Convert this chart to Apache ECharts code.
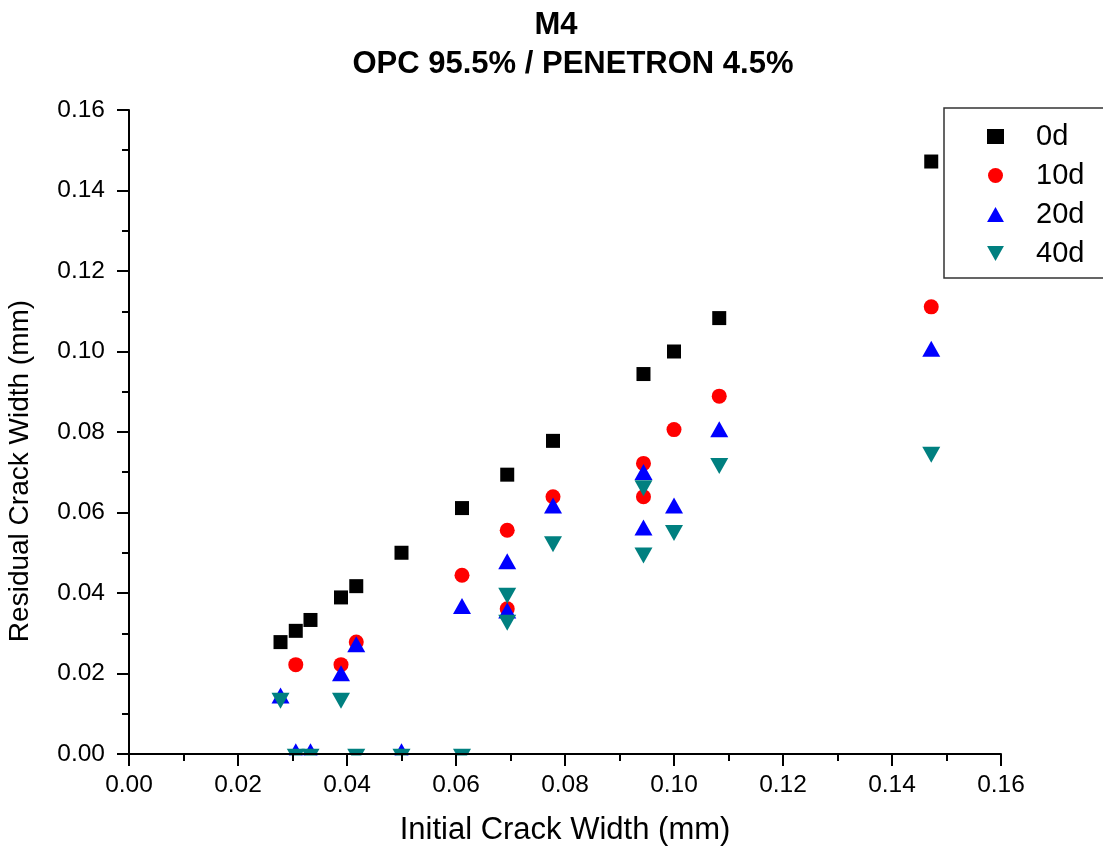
<!DOCTYPE html>
<html>
<head>
<meta charset="utf-8">
<title>M4 residual crack width</title>
<script src="https://cdn.jsdelivr.net/npm/echarts@6/dist/echarts.min.js"></script>
<style>
  html, body { margin: 0; padding: 0; background: #ffffff; }
  #chart { width: 1103px; height: 857px; }
</style>
</head>
<body>
<div id="chart"></div>
<script>
// Initial crack width (mm) and residual width (mm) after each healing period
const initial0d  = [0.0278, 0.0306, 0.0333, 0.0389, 0.0417, 0.0500, 0.0611, 0.0694, 0.0778, 0.0944, 0.1000, 0.1083, 0.1472];
const residual0d = [0.0278, 0.0306, 0.0333, 0.0389, 0.0417, 0.0500, 0.0611, 0.0694, 0.0778, 0.0944, 0.1000, 0.1083, 0.1472];

const initial10d  = [0.0306, 0.0389, 0.0417, 0.0611, 0.0694, 0.0694, 0.0778, 0.0944, 0.0944, 0.1000, 0.1083, 0.1472];
const residual10d = [0.0222, 0.0222, 0.0278, 0.0444, 0.0556, 0.0361, 0.0639, 0.0722, 0.0639, 0.0806, 0.0889, 0.1111];

const initial20d  = [0.0278, 0.0306, 0.0333, 0.0389, 0.0417, 0.0500, 0.0611, 0.0694, 0.0694, 0.0778, 0.0944, 0.0944, 0.1000, 0.1083, 0.1472];
const residual20d = [0.0139, 0.0000, 0.0000, 0.0194, 0.0266, 0.0000, 0.0361, 0.0472, 0.0350, 0.0611, 0.0694, 0.0556, 0.0611, 0.0800, 0.1000];

const initial40d  = [0.0278, 0.0306, 0.0333, 0.0389, 0.0417, 0.0500, 0.0611, 0.0694, 0.0694, 0.0778, 0.0944, 0.0944, 0.1000, 0.1083, 0.1472];
const residual40d = [0.0139, 0.0000, 0.0000, 0.0139, 0.0000, 0.0000, 0.0000, 0.0400, 0.0333, 0.0528, 0.0667, 0.0500, 0.0556, 0.0722, 0.0750];

const seriesNames = ['0d', '10d', '20d', '40d'];
const titleLines = ['M4', 'OPC 95.5% / PENETRON 4.5%'];
const xAxisTitle = 'Initial Crack Width (mm)';
const yAxisTitle = 'Residual Crack Width (mm)';
const axisRange = { min: 0, max: 0.16, interval: 0.02 };

const FONT = '"Liberation Sans", Arial, Helvetica, sans-serif';

function pairs(xs, ys) {
  return xs.map((x, i) => [x, ys[i]]);
}

// Triangles are anchored at their centroid rather than the box centre
const TRI_W = 18, TRI_H = 16;
const UP_TRI = 'path://M9,0 L18,16 L0,16 Z';
const DOWN_TRI = 'path://M0,0 L18,0 L9,16 Z';

const markers = [
  { name: seriesNames[0], data: pairs(initial0d, residual0d), symbol: 'rect', size: 14, offset: [0, 0], color: '#000000' },
  { name: seriesNames[1], data: pairs(initial10d, residual10d), symbol: 'circle', size: 15, offset: [0, 0], color: '#ff0000' },
  { name: seriesNames[2], data: pairs(initial20d, residual20d), symbol: UP_TRI, size: [TRI_W, TRI_H], offset: [0, -TRI_H / 6], color: '#0000ff' },
  { name: seriesNames[3], data: pairs(initial40d, residual40d), symbol: DOWN_TRI, size: [TRI_W, TRI_H], offset: [0, TRI_H / 6], color: '#008080' }
];

const chart = echarts.init(document.getElementById('chart'), null, { renderer: 'canvas' });

const axisCommon = {
  type: 'value',
  min: axisRange.min,
  max: axisRange.max,
  interval: axisRange.interval,
  z: 10,
  splitLine: { show: false },
  axisLine: { show: true, onZero: false, lineStyle: { color: '#000', width: 2 } },
  axisTick: { show: true, inside: false, length: 12, lineStyle: { color: '#000', width: 2 } },
  minorTick: { show: true, splitNumber: 2, length: 7, lineStyle: { color: '#000', width: 2 } },
  minorSplitLine: { show: false },
  axisLabel: {
    color: '#000',
    fontSize: 24.5,
    fontFamily: FONT,
    formatter: v => v.toFixed(2)
  }
};

const option = {
  backgroundColor: '#ffffff',
  animation: false,
  title: [
    {
      text: titleLines[0], left: 556, top: 10, padding: 0, textAlign: 'center',
      textStyle: { fontFamily: FONT, fontSize: 31, fontWeight: 'bold', color: '#000' }
    },
    {
      text: titleLines[1], left: 573, top: 49, padding: 0, textAlign: 'center',
      textStyle: { fontFamily: FONT, fontSize: 31, fontWeight: 'bold', color: '#000' }
    }
  ],
  grid: { left: 129, right: 102, top: 110, bottom: 103, containLabel: false, outerBoundsMode: 'none' },
  xAxis: Object.assign({}, axisCommon, {
    name: xAxisTitle,
    nameLocation: 'middle',
    nameGap: 61,
    nameTextStyle: { fontFamily: FONT, fontSize: 31, color: '#000' },
    axisLabel: Object.assign({}, axisCommon.axisLabel, { margin: 19 })
  }),
  yAxis: Object.assign({}, axisCommon, {
    axisLabel: Object.assign({}, axisCommon.axisLabel, { margin: 24 })
  }),
  legend: {
    orient: 'vertical',
    left: 944,
    top: 108,
    padding: [14, 40, 10, 43],
    itemWidth: 17,
    itemHeight: 15,
    itemGap: 10,
    borderColor: '#333',
    borderWidth: 1.5,
    backgroundColor: '#ffffff',
    selectedMode: false,
    textStyle: { fontFamily: FONT, fontSize: 29, color: '#000', lineHeight: 28, padding: [0, 0, 0, 27] },
    data: markers.map(m => ({ name: m.name, icon: m.symbol }))
  },
  graphic: [
    {
      // hides the parts of markers that fall below the x axis line
      type: 'rect', z: 5, silent: true,
      shape: { x: 130, y: 755.5, width: 880, height: 16 },
      style: { fill: '#ffffff' }
    },
    {
      type: 'text', z: 20, silent: true,
      x: 20, y: 471, rotation: Math.PI / 2,
      style: {
        text: yAxisTitle, fill: '#000', font: '28px ' + FONT,
        align: 'center', verticalAlign: 'middle',
        textAlign: 'center', textVerticalAlign: 'middle'
      }
    }
  ],
  series: markers.map(m => ({
    type: 'scatter',
    name: m.name,
    data: m.data,
    symbol: m.symbol,
    symbolSize: m.size,
    symbolOffset: m.offset,
    clip: false,
    itemStyle: { color: m.color, opacity: 1 },
    emphasis: { disabled: true }
  }))
};

chart.setOption(option);
</script>
</body>
</html>
